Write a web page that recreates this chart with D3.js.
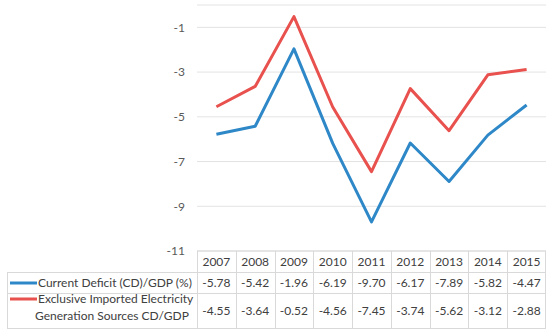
<!DOCTYPE html>
<html>
<head>
<meta charset="utf-8">
<script src="https://cdn.jsdelivr.net/npm/d3@7"></script>
<style>
  body { margin: 0; background: #fff; }
  svg text { font-family: Lato, "Open Sans", sans-serif; fill: #404040; }
</style>
</head>
<body>
<div id="chart"></div>
<script>
// Chart data
const years = ['2007', '2008', '2009', '2010', '2011', '2012', '2013', '2014', '2015'];
const currentDeficit = [-5.78, -5.42, -1.96, -6.19, -9.70, -6.17, -7.89, -5.82, -4.47];
const importedSources = [-4.55, -3.64, -0.52, -4.56, -7.45, -3.74, -5.62, -3.12, -2.88];
const yTicks = [-1, -3, -5, -7, -9, -11];

const seriesNames = ['Current Deficit (CD)/GDP (%)', 'Exclusive Imported Electricity|Generation Sources CD/GDP'];
const seriesColors = ['#2e88c8', '#e8514d'];

const width = 546;
const height = 334;
const plotLeft = 197, plotRight = 546, plotTop = 5, plotBottom = 251;

const svg = d3.select('#chart').append('svg')
    .attr('width', width)
    .attr('height', height);

// Scales
const xScale = d3.scaleBand()
    .domain(years)
    .range([plotLeft, plotRight]);

const yScale = d3.scaleLinear()
    .domain([-11, 0])
    .range([plotBottom, plotTop]);

// Grid lines (plus top border at 0)
svg.append('g')
    .selectAll('line')
    .data(yTicks.concat([0]))
    .enter()
    .append('line')
    .attr('x1', plotLeft)
    .attr('x2', plotRight)
    .attr('y1', d => yScale(d))
    .attr('y2', d => yScale(d))
    .attr('stroke', '#e3e3e3')
    .attr('stroke-width', 1);

// Y axis labels (plain hyphen minus, like the source)
const yAxis = d3.axisLeft(yScale)
    .tickValues(yTicks)
    .tickFormat(d => String(d))
    .tickSize(0)
    .tickPadding(12);
const yAxisGroup = svg.append('g')
    .attr('transform', `translate(${plotLeft},0)`)
    .call(yAxis);
yAxisGroup.select('.domain').remove();
yAxisGroup.selectAll('text')
    .style('font-size', '12px')
    .style('font-family', 'Lato, "Open Sans", sans-serif')
    .style('fill', '#595959');

// Lines
const line = d3.line()
    .x((d, i) => xScale(years[i]) + xScale.bandwidth() / 2)
    .y(d => yScale(d));

[currentDeficit, importedSources].forEach((vals, k) => {
    svg.append('path')
        .datum(vals)
        .attr('fill', 'none')
        .attr('stroke', seriesColors[k])
        .attr('stroke-width', 3)
        .attr('stroke-linejoin', 'round')
        .attr('d', line);
});

// Data table
const tableLeft = 7;
const rowTops = [251, 272, 293, 328];
const borderColor = '#d9d9d9';
const tbl = svg.append('g');

// horizontal borders
tbl.append('line').attr('x1', plotLeft).attr('x2', plotRight).attr('y1', rowTops[0]).attr('y2', rowTops[0]).attr('stroke', borderColor);
rowTops.slice(1).forEach(y => {
    tbl.append('line').attr('x1', tableLeft).attr('x2', plotRight)
        .attr('y1', y + 0.5).attr('y2', y + 0.5).attr('stroke', borderColor);
});
// vertical borders
tbl.append('line').attr('x1', tableLeft + 0.5).attr('x2', tableLeft + 0.5)
    .attr('y1', rowTops[1]).attr('y2', rowTops[3]).attr('stroke', borderColor);
years.forEach(y => {
    const x = Math.round(xScale(y)) + 0.5;
    tbl.append('line').attr('x1', x).attr('x2', x)
        .attr('y1', rowTops[0]).attr('y2', rowTops[3]).attr('stroke', borderColor);
});
tbl.append('line').attr('x1', plotRight - 0.5).attr('x2', plotRight - 0.5)
    .attr('y1', rowTops[0]).attr('y2', rowTops[3]).attr('stroke', borderColor);

// header labels
tbl.selectAll('.yr')
    .data(years)
    .enter()
    .append('text')
    .attr('x', d => xScale(d) + xScale.bandwidth() / 2)
    .attr('y', 266)
    .attr('text-anchor', 'middle')
    .style('font-size', '12px')
    .text(d => d);

// values
[currentDeficit, importedSources].forEach((vals, k) => {
    const cy = k === 0 ? 287 : 315;
    tbl.selectAll('.v' + k)
        .data(vals)
        .enter()
        .append('text')
        .attr('x', (d, i) => xScale(years[i]) + xScale.bandwidth() / 2)
        .attr('y', cy)
        .attr('text-anchor', 'middle')
        .style('font-size', '12px')
        .text(d => d.toFixed(2));
});

// legend keys and row names
tbl.append('line').attr('x1', 10).attr('x2', 37).attr('y1', 283).attr('y2', 283)
    .attr('stroke', seriesColors[0]).attr('stroke-width', 3);
tbl.append('line').attr('x1', 10).attr('x2', 37).attr('y1', 299).attr('y2', 299)
    .attr('stroke', seriesColors[1]).attr('stroke-width', 3);

tbl.append('text').attr('x', 38).attr('y', 287)
    .style('font-size', '12px').text(seriesNames[0]);
const lines2 = seriesNames[1].split('|');
tbl.append('text').attr('x', 38).attr('y', 303)
    .style('font-size', '12px').text(lines2[0]);
tbl.append('text').attr('x', 112).attr('y', 320)
    .attr('text-anchor', 'middle')
    .style('font-size', '12px').text(lines2[1]);
</script>
</body>
</html>
